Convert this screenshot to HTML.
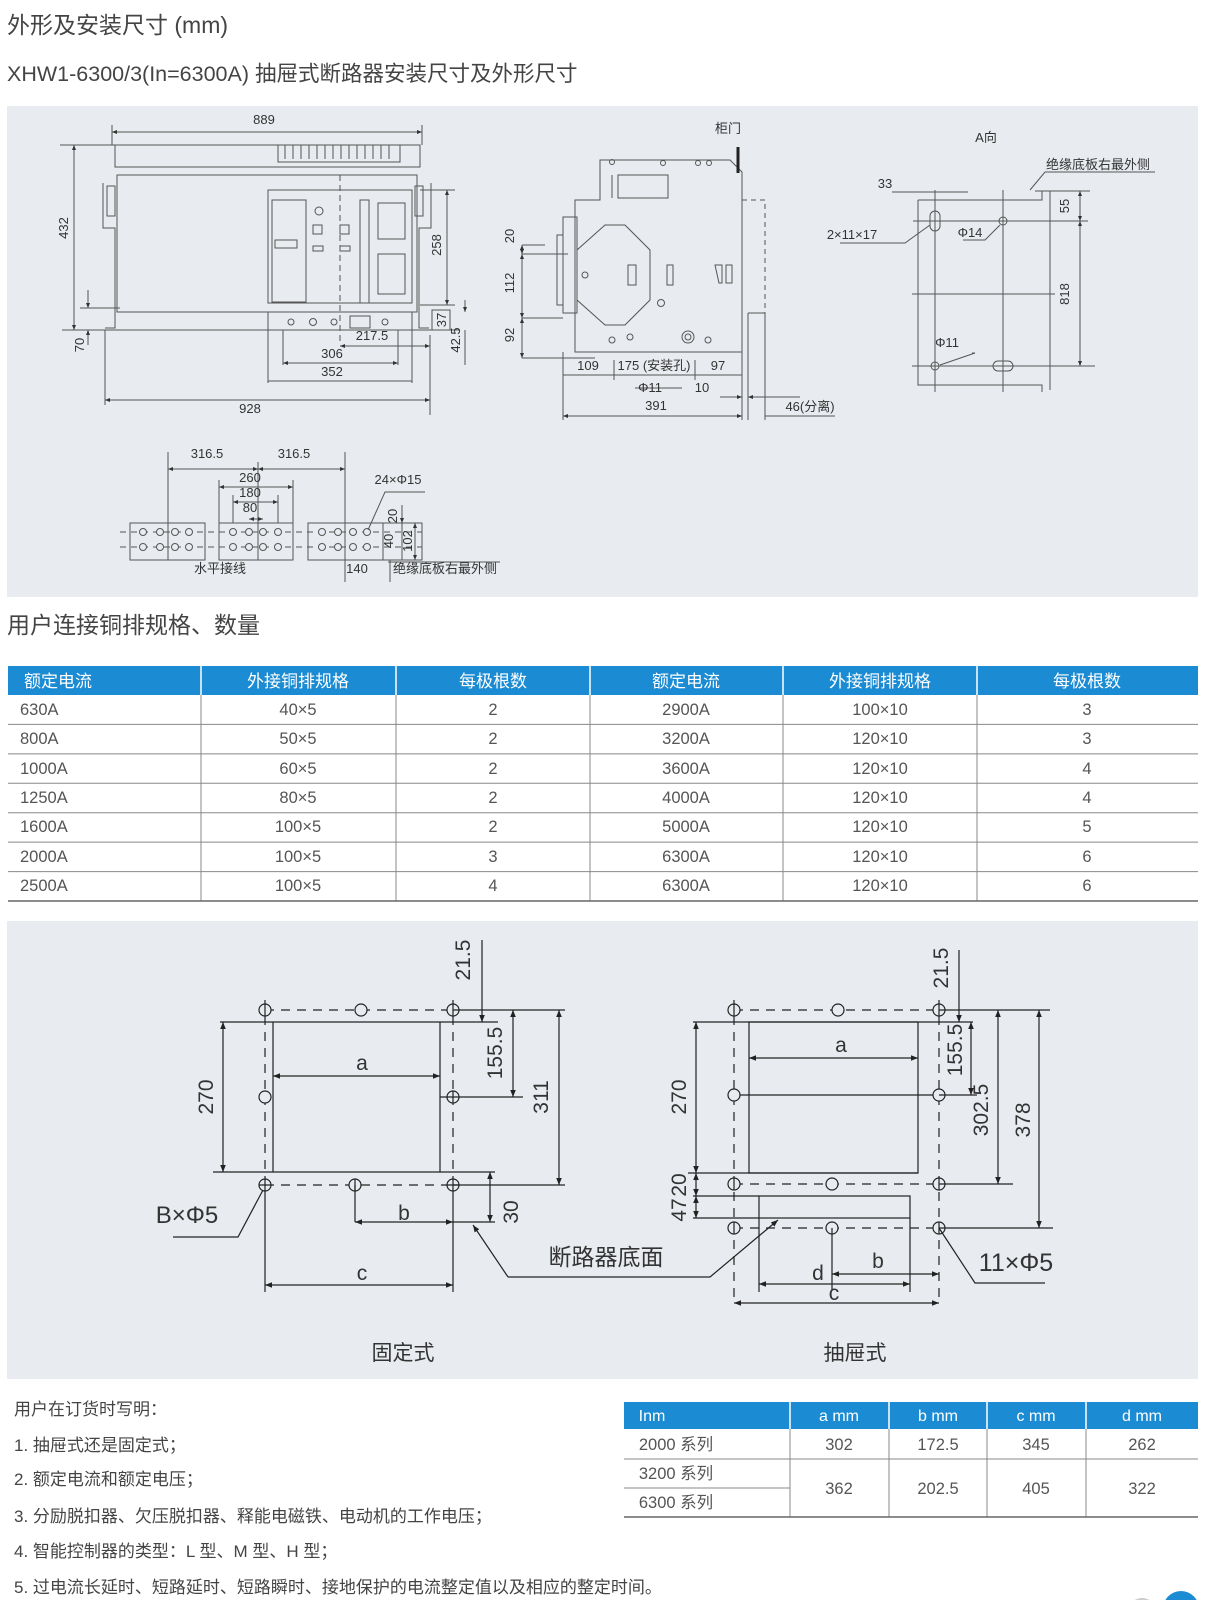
<!DOCTYPE html>
<html><head><meta charset="utf-8"><style>
html,body{margin:0;padding:0;background:#fff}
svg{display:block}
text{font-family:"Liberation Sans","Noto Sans CJK SC",sans-serif}
</style></head><body>
<svg width="1209" height="1600" viewBox="0 0 1209 1600" xmlns="http://www.w3.org/2000/svg">
<defs>
<marker id="a" viewBox="0 0 10 10" refX="10" refY="5" markerWidth="9" markerHeight="7" orient="auto-start-reverse" markerUnits="userSpaceOnUse"><path d="M0,1 L10,5 L0,9 z" fill="#222"/></marker>
<marker id="s" viewBox="0 0 10 10" refX="10" refY="5" markerWidth="7" markerHeight="5" orient="auto-start-reverse" markerUnits="userSpaceOnUse"><path d="M0,1 L10,5 L0,9 z" fill="#333"/></marker>
</defs>

<!-- headings -->
<text x="7" y="33" font-size="23" fill="#444">外形及安装尺寸 (mm)</text>
<text x="7" y="81" font-size="21.5" fill="#444">XHW1-6300/3(In=6300A) 抽屉式断路器安装尺寸及外形尺寸</text>

<!-- panel 1 -->
<rect x="7" y="106" width="1191" height="491" fill="#e8ecf0"/>

<g stroke="#555" stroke-width="1" fill="none">
<line x1="112" y1="132" x2="422" y2="132" marker-start="url(#s)" marker-end="url(#s)"/>
<line x1="112" y1="125" x2="112" y2="145"/><line x1="422" y1="125" x2="422" y2="145"/>
<rect x="115" y="145" width="305" height="22"/>
<rect x="278" y="145" width="122" height="17"/>
<path d="M285 145v14M293 145v14M301 145v14M309 145v14M317 145v14M325 145v14M333 145v14M341 145v14M349 145v14M357 145v14M365 145v14M373 145v14M381 145v14M389 145v14"/>
<rect x="117" y="175" width="300" height="137"/>
<rect x="268" y="190" width="144" height="113"/>
<rect x="272" y="200" width="34" height="102"/>
<rect x="275" y="240" width="22" height="8"/>
<circle cx="319" cy="211" r="4"/><rect x="313" y="225" width="9" height="9"/><rect x="340" y="225" width="9" height="9"/>
<rect x="313" y="246" width="10" height="5"/><rect x="340" y="246" width="10" height="5"/>
<rect x="360" y="200" width="9" height="103"/>
<rect x="378" y="203" width="27" height="36"/><rect x="378" y="254" width="27" height="40"/>
<line x1="340" y1="175" x2="340" y2="345" stroke-dasharray="6 4"/>
<rect x="268" y="312" width="144" height="18"/>
<circle cx="291" cy="322" r="3"/><circle cx="313" cy="322" r="3.5"/><circle cx="334" cy="322" r="3"/><rect x="350" y="316" width="20" height="12"/><circle cx="385" cy="322" r="3"/>
<path d="M103 183v45h12v100h-10M431 183v45h-12v100h10"/>
<path d="M107 186h8v30h-8zM423 186h-8v30h8z"/>
<line x1="62" y1="330" x2="460" y2="330"/>
<line x1="60" y1="145" x2="115" y2="145"/>
<line x1="74" y1="145" x2="74" y2="330" marker-start="url(#s)" marker-end="url(#s)"/>
<line x1="88" y1="290" x2="88" y2="308" marker-end="url(#s)"/><line x1="88" y1="345" x2="88" y2="330" marker-end="url(#s)"/>
<line x1="80" y1="308" x2="120" y2="308"/>
<line x1="420" y1="190" x2="455" y2="190"/><line x1="420" y1="305" x2="455" y2="305"/>
<line x1="447" y1="190" x2="447" y2="305" marker-start="url(#s)" marker-end="url(#s)"/>
<rect x="432" y="310" width="18" height="20"/>
<line x1="465" y1="300" x2="465" y2="312" marker-end="url(#s)"/><line x1="465" y1="365" x2="465" y2="330"/>
<line x1="340" y1="346" x2="430" y2="346" marker-start="url(#s)" marker-end="url(#s)"/>
<line x1="283" y1="363" x2="398" y2="363" marker-start="url(#s)" marker-end="url(#s)"/>
<line x1="268" y1="381" x2="412" y2="381"/>
<line x1="283" y1="330" x2="283" y2="365"/><line x1="398" y1="330" x2="398" y2="365"/><line x1="268" y1="330" x2="268" y2="383"/><line x1="412" y1="330" x2="412" y2="383"/>
<line x1="430" y1="335" x2="430" y2="415"/><line x1="105" y1="330" x2="105" y2="405"/>
<line x1="105" y1="400" x2="430" y2="400" marker-start="url(#s)" marker-end="url(#s)"/>

<path d="M600 160H730L742 172V352H575V200H600Z"/>
<rect x="618" y="175" width="50" height="23"/><line x1="612" y1="175" x2="612" y2="198"/>
<path d="M605 225H625L650 250V300L625 325H605L577 300V250Z"/>
<rect x="563" y="217" width="14" height="96"/><path d="M557 235h6v70h-6z"/>
<line x1="522" y1="254" x2="568" y2="254"/><line x1="522" y1="318" x2="563" y2="318"/><line x1="522" y1="245" x2="545" y2="245"/>
<rect x="628" y="265" width="8" height="20"/><rect x="667" y="265" width="6" height="20"/><rect x="726" y="265" width="6" height="18"/><path d="M715 265l4 18h3v-18z"/>
<circle cx="585" cy="275" r="3"/><circle cx="661" cy="303" r="3.5"/><circle cx="612" cy="340" r="3"/><circle cx="630" cy="337" r="3"/><circle cx="688" cy="337" r="6"/><circle cx="688" cy="337" r="3"/><circle cx="708" cy="340" r="3"/>
<circle cx="612" cy="162" r="2.5"/><circle cx="663" cy="163" r="2.5"/><circle cx="698" cy="163" r="2.5"/><circle cx="709" cy="163" r="2.5"/>
<path d="M742 200H765V313" stroke-dasharray="5 4"/>
<path d="M748 313V420M765 313V420M748 313H765"/>
<line x1="738" y1="147" x2="738" y2="173" stroke="#222" stroke-width="3"/>
<line x1="522" y1="245" x2="522" y2="254" marker-start="url(#s)" marker-end="url(#s)"/>
<line x1="522" y1="254" x2="522" y2="318" marker-start="url(#s)" marker-end="url(#s)"/>
<line x1="522" y1="318" x2="522" y2="358" marker-start="url(#s)" marker-end="url(#s)"/>
<line x1="522" y1="358" x2="595" y2="358"/>
<line x1="563" y1="352" x2="563" y2="420"/><line x1="742" y1="352" x2="742" y2="420"/><line x1="614" y1="360" x2="614" y2="380"/><line x1="695" y1="360" x2="695" y2="380"/>
<line x1="563" y1="375" x2="742" y2="375"/>
<line x1="720" y1="397" x2="742" y2="397" marker-end="url(#s)"/><line x1="800" y1="397" x2="748" y2="397" marker-end="url(#s)"/>
<line x1="563" y1="416" x2="742" y2="416" marker-start="url(#s)" marker-end="url(#s)"/>
<line x1="765" y1="416" x2="835" y2="416"/><line x1="635" y1="388" x2="682" y2="388"/>

<path d="M918 200H1042V191H1050V390M918 200V385H1042V392"/>
<line x1="913" y1="221" x2="1088" y2="221"/><line x1="912" y1="294" x2="1055" y2="294"/><line x1="912" y1="366" x2="1095" y2="366"/>
<line x1="935" y1="190" x2="935" y2="392"/><line x1="1003" y1="190" x2="1003" y2="392"/>
<rect x="930" y="211" width="10" height="20" rx="5"/><circle cx="1003" cy="221" r="4"/><circle cx="935" cy="366" r="4"/><rect x="993" y="361" width="20" height="10" rx="5"/>
<line x1="892" y1="192" x2="968" y2="192"/><line x1="1035" y1="191" x2="1090" y2="191"/>
<line x1="1080" y1="191" x2="1080" y2="221" marker-start="url(#s)" marker-end="url(#s)"/>
<line x1="1080" y1="221" x2="1080" y2="366" marker-start="url(#s)" marker-end="url(#s)"/>
<path d="M840 243H905L930 225"/><path d="M963 240H985L1000 225"/><path d="M972 353H975L940 365"/><path d="M1030 190L1045 172H1155"/>

<rect x="130" y="523" width="75" height="37"/><rect x="219" y="523" width="74" height="37"/><rect x="308" y="523" width="75" height="37"/><rect x="383" y="523" width="39" height="37"/>
<line x1="120" y1="532" x2="422" y2="532" stroke-dasharray="6 5"/><line x1="120" y1="547" x2="422" y2="547" stroke-dasharray="6 5"/>
<g fill="#e8ecf0">
<circle cx="143" cy="532" r="3.5"/><circle cx="160" cy="532" r="3.5"/><circle cx="175" cy="532" r="3.5"/><circle cx="189" cy="532" r="3.5"/>
<circle cx="143" cy="547" r="3.5"/><circle cx="160" cy="547" r="3.5"/><circle cx="175" cy="547" r="3.5"/><circle cx="189" cy="547" r="3.5"/>
<circle cx="233" cy="532" r="3.5"/><circle cx="249" cy="532" r="3.5"/><circle cx="263" cy="532" r="3.5"/><circle cx="278" cy="532" r="3.5"/>
<circle cx="233" cy="547" r="3.5"/><circle cx="249" cy="547" r="3.5"/><circle cx="263" cy="547" r="3.5"/><circle cx="278" cy="547" r="3.5"/>
<circle cx="322" cy="532" r="3.5"/><circle cx="338" cy="532" r="3.5"/><circle cx="353" cy="532" r="3.5"/><circle cx="367" cy="532" r="3.5"/>
<circle cx="322" cy="547" r="3.5"/><circle cx="338" cy="547" r="3.5"/><circle cx="353" cy="547" r="3.5"/><circle cx="367" cy="547" r="3.5"/>
</g>
<line x1="168" y1="452" x2="168" y2="560"/><line x1="345" y1="452" x2="345" y2="582"/><line x1="258" y1="462" x2="258" y2="560"/>
<line x1="168" y1="469" x2="258" y2="469" marker-start="url(#s)" marker-end="url(#s)"/><line x1="258" y1="469" x2="345" y2="469" marker-start="url(#s)" marker-end="url(#s)"/>
<line x1="219" y1="487" x2="293" y2="487" marker-start="url(#s)" marker-end="url(#s)"/>
<line x1="233" y1="502" x2="278" y2="502" marker-start="url(#s)" marker-end="url(#s)"/>
<line x1="249" y1="519" x2="263" y2="519" marker-start="url(#s)" marker-end="url(#s)"/>
<line x1="219" y1="480" x2="219" y2="523"/><line x1="293" y1="480" x2="293" y2="523"/><line x1="233" y1="495" x2="233" y2="523"/><line x1="278" y1="495" x2="278" y2="523"/>
<line x1="402" y1="505" x2="402" y2="523" marker-end="url(#s)"/><line x1="402" y1="523" x2="402" y2="560"/><line x1="415" y1="523" x2="415" y2="560" marker-start="url(#s)" marker-end="url(#s)"/>
<line x1="390" y1="560" x2="390" y2="582"/>
<path d="M425 492H385L368 530"/><line x1="388" y1="562" x2="500" y2="562"/>
</g>

<g font-size="13" fill="#333" text-anchor="middle">
<text x="264" y="124">889</text>
<text x="372" y="340">217.5</text><text x="332" y="358">306</text><text x="332" y="376">352</text><text x="250" y="413">928</text>
<text transform="translate(68,228) rotate(-90)">432</text>
<text transform="translate(84,345) rotate(-90)">70</text>
<text transform="translate(441,245) rotate(-90)">258</text>
<text transform="translate(446,320) rotate(-90)">37</text>
<text transform="translate(460,340) rotate(-90)">42.5</text>
<text x="728" y="133">柜门</text>
<text transform="translate(514,236) rotate(-90)">20</text>
<text transform="translate(514,283) rotate(-90)">112</text>
<text transform="translate(514,335) rotate(-90)">92</text>
<text x="588" y="370">109</text><text x="654" y="370">175 (安装孔)</text><text x="718" y="370">97</text>
<text x="650" y="392">Φ11</text><text x="702" y="392">10</text>
<text x="656" y="410">391</text><text x="810" y="411">46(分离)</text>
<text x="986" y="142">A向</text>
<text x="1098" y="169">绝缘底板右最外侧</text>
<text x="885" y="188">33</text>
<text x="852" y="239">2×11×17</text>
<text x="970" y="237">Φ14</text>
<text x="947" y="347">Φ11</text>
<text transform="translate(1069,206) rotate(-90)">55</text>
<text transform="translate(1069,294) rotate(-90)">818</text>
<text x="207" y="458">316.5</text><text x="294" y="458">316.5</text>
<text x="250" y="482">260</text><text x="250" y="497">180</text><text x="250" y="512">80</text>
<text x="398" y="484">24×Φ15</text>
<text transform="translate(397,516) rotate(-90)">20</text>
<text transform="translate(393,541) rotate(-90)">40</text>
<text transform="translate(412,541) rotate(-90)">102</text>
<text x="220" y="573">水平接线</text><text x="357" y="573">140</text><text x="445" y="573">绝缘底板右最外侧</text>
</g>

<text x="7" y="633" font-size="23" fill="#444">用户连接铜排规格、数量</text>

<rect x="8" y="666" width="1190" height="29" fill="#1b8bd3"/>
<g stroke="#fff" stroke-width="1.5"><line x1="201" y1="666" x2="201" y2="695"/><line x1="396" y1="666" x2="396" y2="695"/><line x1="590" y1="666" x2="590" y2="695"/><line x1="783" y1="666" x2="783" y2="695"/><line x1="977" y1="666" x2="977" y2="695"/></g>
<g stroke="#888" stroke-width="1">
<line x1="201" y1="695" x2="201" y2="901"/><line x1="396" y1="695" x2="396" y2="901"/><line x1="590" y1="695" x2="590" y2="901"/><line x1="783" y1="695" x2="783" y2="901"/><line x1="977" y1="695" x2="977" y2="901"/>
<line x1="8" y1="724.4" x2="1198" y2="724.4"/><line x1="8" y1="753.9" x2="1198" y2="753.9"/><line x1="8" y1="783.3" x2="1198" y2="783.3"/><line x1="8" y1="812.7" x2="1198" y2="812.7"/><line x1="8" y1="842.1" x2="1198" y2="842.1"/><line x1="8" y1="871.6" x2="1198" y2="871.6"/>
</g>
<line x1="8" y1="901" x2="1198" y2="901" stroke="#666" stroke-width="1.5"/>
<g font-size="17" fill="#fff" text-anchor="middle">
<text x="58" y="687">额定电流</text><text x="298" y="687">外接铜排规格</text><text x="493" y="687">每极根数</text><text x="686" y="687">额定电流</text><text x="880" y="687">外接铜排规格</text><text x="1087" y="687">每极根数</text>
</g>
<g font-size="16.5" fill="#555">
<text x="20" y="715">630A</text><text x="20" y="744">800A</text><text x="20" y="774">1000A</text><text x="20" y="803">1250A</text><text x="20" y="832">1600A</text><text x="20" y="862">2000A</text><text x="20" y="891">2500A</text>
<g text-anchor="middle">
<text x="298" y="715">40×5</text><text x="298" y="744">50×5</text><text x="298" y="774">60×5</text><text x="298" y="803">80×5</text><text x="298" y="832">100×5</text><text x="298" y="862">100×5</text><text x="298" y="891">100×5</text>
<text x="493" y="715">2</text><text x="493" y="744">2</text><text x="493" y="774">2</text><text x="493" y="803">2</text><text x="493" y="832">2</text><text x="493" y="862">3</text><text x="493" y="891">4</text>
<text x="686" y="715">2900A</text><text x="686" y="744">3200A</text><text x="686" y="774">3600A</text><text x="686" y="803">4000A</text><text x="686" y="832">5000A</text><text x="686" y="862">6300A</text><text x="686" y="891">6300A</text>
<text x="880" y="715">100×10</text><text x="880" y="744">120×10</text><text x="880" y="774">120×10</text><text x="880" y="803">120×10</text><text x="880" y="832">120×10</text><text x="880" y="862">120×10</text><text x="880" y="891">120×10</text>
<text x="1087" y="715">3</text><text x="1087" y="744">3</text><text x="1087" y="774">4</text><text x="1087" y="803">4</text><text x="1087" y="832">5</text><text x="1087" y="862">6</text><text x="1087" y="891">6</text>
</g></g>

<rect x="7" y="921" width="1191" height="458" fill="#e8ecf0"/>
<g stroke="#222" stroke-width="1.2" fill="none">
<path d="M265 1000V1180M453 1000V1180M265 1010H453M265 1185H453" stroke-dasharray="9 7"/>
<line x1="220" y1="1022" x2="498" y2="1022"/><line x1="213" y1="1172" x2="495" y2="1172"/>
<line x1="273" y1="1022" x2="273" y2="1172"/><line x1="440" y1="1022" x2="440" y2="1172"/>
<g fill="#e8ecf0"><circle cx="265" cy="1010" r="6"/><circle cx="361" cy="1010" r="6"/><circle cx="453" cy="1010" r="6"/><circle cx="265" cy="1097" r="6"/><circle cx="453" cy="1097" r="6"/><circle cx="265" cy="1185" r="6"/><circle cx="355" cy="1185" r="6"/><circle cx="453" cy="1185" r="6"/></g>
<path d="M265 1004V1016M453 1004V1016M453 1091V1103M265 1179V1191M355 1179V1191M453 1179V1191M259 1185H271M447 1185H459"/>
<line x1="273" y1="1076" x2="440" y2="1076" marker-start="url(#a)" marker-end="url(#a)"/>
<line x1="223" y1="1022" x2="223" y2="1172" marker-start="url(#a)" marker-end="url(#a)"/>
<line x1="482" y1="940" x2="482" y2="1022" marker-end="url(#a)"/>
<line x1="453" y1="1010" x2="565" y2="1010"/><line x1="440" y1="1097" x2="523" y2="1097"/><line x1="453" y1="1185" x2="565" y2="1185"/>
<line x1="513" y1="1010" x2="513" y2="1097" marker-start="url(#a)" marker-end="url(#a)"/>
<line x1="559" y1="1010" x2="559" y2="1185" marker-start="url(#a)" marker-end="url(#a)"/>
<line x1="490" y1="1172" x2="490" y2="1222" marker-start="url(#a)" marker-end="url(#a)"/>
<line x1="453" y1="1222" x2="495" y2="1222"/>
<line x1="355" y1="1185" x2="355" y2="1222"/>
<line x1="355" y1="1222" x2="453" y2="1222" marker-start="url(#a)" marker-end="url(#a)"/>
<line x1="265" y1="1190" x2="265" y2="1292"/><line x1="453" y1="1190" x2="453" y2="1292"/>
<line x1="265" y1="1285" x2="453" y2="1285" marker-start="url(#a)" marker-end="url(#a)"/>
<path d="M173 1237H238L263 1190"/>
<path d="M508 1277H710L778 1220" marker-end="url(#a)"/>
<path d="M508 1277L473 1225" marker-end="url(#a)"/>
<path d="M734 1000V1300M939 1000V1300M734 1010H939M734 1184H939M734 1228H939" stroke-dasharray="9 7"/>
<line x1="693" y1="1022" x2="973" y2="1022"/>
<rect x="749" y="1022" width="169" height="151"/>
<line x1="688" y1="1173" x2="918" y2="1173"/>
<line x1="734" y1="1095" x2="939" y2="1095"/>
<rect x="759" y="1196" width="151" height="22"/>
<line x1="693" y1="1196" x2="759" y2="1196"/><line x1="693" y1="1218" x2="759" y2="1218"/>
<line x1="759" y1="1218" x2="759" y2="1292"/><line x1="910" y1="1218" x2="910" y2="1292"/>
<g fill="#e8ecf0"><circle cx="734" cy="1010" r="6"/><circle cx="838" cy="1010" r="6"/><circle cx="939" cy="1010" r="6"/><circle cx="734" cy="1095" r="6"/><circle cx="939" cy="1095" r="6"/><circle cx="734" cy="1184" r="6"/><circle cx="832" cy="1184" r="6"/><circle cx="939" cy="1184" r="6"/><circle cx="734" cy="1228" r="6"/><circle cx="832" cy="1228" r="6"/><circle cx="939" cy="1228" r="6"/></g>
<path d="M734 1004V1016M939 1004V1016M734 1178V1190M939 1178V1190M734 1222V1234M939 1222V1234M832 1228V1290"/>
<line x1="749" y1="1058" x2="918" y2="1058" marker-start="url(#a)" marker-end="url(#a)"/>
<line x1="696" y1="1022" x2="696" y2="1173" marker-start="url(#a)" marker-end="url(#a)"/>
<line x1="696" y1="1173" x2="696" y2="1196" marker-start="url(#a)" marker-end="url(#a)"/>
<line x1="696" y1="1196" x2="696" y2="1218" marker-start="url(#a)" marker-end="url(#a)"/>
<line x1="959" y1="950" x2="959" y2="1022" marker-end="url(#a)"/>
<line x1="939" y1="1010" x2="1050" y2="1010"/><line x1="939" y1="1095" x2="977" y2="1095"/><line x1="939" y1="1184" x2="1013" y2="1184"/><line x1="939" y1="1228" x2="1053" y2="1228"/>
<line x1="971" y1="1022" x2="971" y2="1095" marker-start="url(#a)" marker-end="url(#a)"/>
<line x1="998" y1="1010" x2="998" y2="1184" marker-start="url(#a)" marker-end="url(#a)"/>
<line x1="1039" y1="1010" x2="1039" y2="1228" marker-start="url(#a)" marker-end="url(#a)"/>
<line x1="832" y1="1274" x2="939" y2="1274" marker-start="url(#a)" marker-end="url(#a)"/>
<line x1="759" y1="1284" x2="910" y2="1284" marker-start="url(#a)" marker-end="url(#a)"/>
<line x1="734" y1="1303" x2="939" y2="1303" marker-start="url(#a)" marker-end="url(#a)"/>
<path d="M939 1228L975 1283H1045"/>
</g>
<g font-size="21" fill="#333" text-anchor="middle">
<text x="362" y="1070">a</text><text x="404" y="1220">b</text><text x="362" y="1280">c</text>
<text transform="translate(213,1097) rotate(-90)">270</text>
<text transform="translate(470,960) rotate(-90)">21.5</text>
<text transform="translate(502,1053) rotate(-90)">155.5</text>
<text transform="translate(548,1097) rotate(-90)">311</text>
<text transform="translate(518,1212) rotate(-90)">30</text>
<text x="187" y="1223" font-size="24">B×Φ5</text>
<text x="606" y="1265" font-size="23">断路器底面</text>
<text x="403" y="1360">固定式</text>
<text x="841" y="1052">a</text><text x="878" y="1268">b</text><text x="818" y="1280">d</text><text x="834" y="1300">c</text>
<text transform="translate(686,1097) rotate(-90)">270</text>
<text transform="translate(686,1185) rotate(-90)">20</text>
<text transform="translate(686,1210) rotate(-90)">47</text>
<text transform="translate(948,968) rotate(-90)">21.5</text>
<text transform="translate(962,1050) rotate(-90)">155.5</text>
<text transform="translate(988,1110) rotate(-90)">302.5</text>
<text transform="translate(1030,1120) rotate(-90)">378</text>
<text x="1016" y="1271" font-size="25">11×Φ5</text>
<text x="855" y="1360">抽屉式</text>
</g>

<g font-size="17" fill="#444">
<text x="14" y="1415">用户在订货时写明：</text>
<text x="14" y="1451">1. 抽屉式还是固定式；</text>
<text x="14" y="1485">2. 额定电流和额定电压；</text>
<text x="14" y="1522">3. 分励脱扣器、欠压脱扣器、释能电磁铁、电动机的工作电压；</text>
<text x="14" y="1557">4. 智能控制器的类型：L 型、M 型、H 型；</text>
<text x="14" y="1593">5. 过电流长延时、短路延时、短路瞬时、接地保护的电流整定值以及相应的整定时间。</text>
</g>

<rect x="624" y="1402" width="574" height="27" fill="#1b8bd3"/>
<g stroke="#fff" stroke-width="1.5"><line x1="790" y1="1402" x2="790" y2="1429"/><line x1="889" y1="1402" x2="889" y2="1429"/><line x1="987" y1="1402" x2="987" y2="1429"/><line x1="1086" y1="1402" x2="1086" y2="1429"/></g>
<g stroke="#888" stroke-width="1">
<line x1="790" y1="1429" x2="790" y2="1517"/><line x1="889" y1="1429" x2="889" y2="1517"/><line x1="987" y1="1429" x2="987" y2="1517"/><line x1="1086" y1="1429" x2="1086" y2="1517"/>
<line x1="624" y1="1459" x2="1198" y2="1459"/><line x1="624" y1="1488" x2="790" y2="1488"/>
</g>
<line x1="624" y1="1517" x2="1198" y2="1517" stroke="#666" stroke-width="1.5"/>
<g font-size="16" fill="#fff" text-anchor="middle">
<text x="652" y="1421">Inm</text><text x="839" y="1421">a mm</text><text x="938" y="1421">b mm</text><text x="1036" y="1421">c mm</text><text x="1142" y="1421">d mm</text>
</g>
<g font-size="16.5" fill="#555" text-anchor="middle">
<text x="676" y="1450">2000 系列</text><text x="839" y="1450">302</text><text x="938" y="1450">172.5</text><text x="1036" y="1450">345</text><text x="1142" y="1450">262</text>
<text x="676" y="1479">3200 系列</text><text x="676" y="1508">6300 系列</text>
<text x="839" y="1494">362</text><text x="938" y="1494">202.5</text><text x="1036" y="1494">405</text><text x="1142" y="1494">322</text>
</g>
<circle cx="1142" cy="1612" r="14" fill="#ccc"/>
<circle cx="1181" cy="1609" r="18" fill="#1b8bd3"/>
</svg>
</body></html>
